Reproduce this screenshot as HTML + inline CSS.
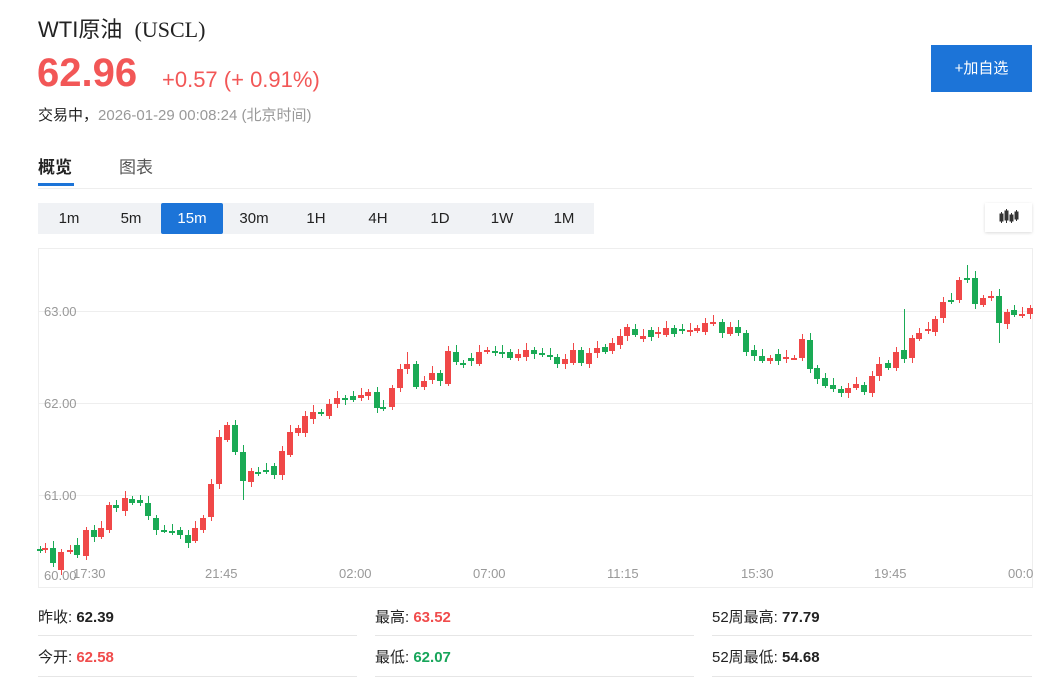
<!DOCTYPE html>
<html><head><meta charset="utf-8"><style>
body{margin:0;width:1063px;height:691px;background:#fff;font-family:"Liberation Sans","Noto Sans CJK SC",sans-serif;position:relative;overflow:hidden}
.a{position:absolute;white-space:nowrap}
.tf{position:absolute;top:203px;height:31px;width:62px;line-height:31px;text-align:center;font-size:15px;color:#222}
.lbl{font-size:15px;color:#222}
.v{font-weight:bold;font-size:15px}
.r{color:#f04c4c}.g{color:#17a55a}
</style></head><body>
<div class="a" style="left:38px;top:12px;font-size:22px;color:#222">WTI原油&nbsp; <span style="font-family:'Liberation Serif',serif">(USCL)</span></div>
<div class="a" style="left:37px;top:51px;font-size:40px;font-weight:bold;color:#f25757">62.96</div>
<div class="a" style="left:162px;top:67px;font-size:22px;color:#f25757">+0.57 (+ 0.91%)</div>
<div class="a" style="left:38px;top:104px;font-size:15px;color:#222">交易中，<span style="color:#999">2026-01-29 00:08:24 (北京时间)</span></div>
<div class="a" style="left:931px;top:45px;width:101px;height:47px;background:#1c74d8;color:#fff;font-size:15px;line-height:47px;text-align:center">+加自选</div>
<div class="a" style="left:38px;top:153px;font-size:17px;font-weight:bold;color:#222">概览</div>
<div class="a" style="left:119px;top:153px;font-size:17px;color:#555">图表</div>
<div class="a" style="left:38px;top:183px;width:36px;height:3px;background:#1c74d8"></div>
<div class="a" style="left:38px;top:188px;width:994px;height:1px;background:#eee"></div>
<div class="a" style="left:38px;top:203px;width:556px;height:31px;background:#f0f2f5"></div>
<div class="tf" style="left:38px">1m</div><div class="tf" style="left:100px">5m</div>
<div class="tf" style="left:161px;background:#1c74d8;color:#fff;border-radius:2px">15m</div>
<div class="tf" style="left:223px">30m</div><div class="tf" style="left:285px">1H</div><div class="tf" style="left:347px">4H</div><div class="tf" style="left:409px">1D</div><div class="tf" style="left:471px">1W</div><div class="tf" style="left:533px">1M</div>
<div class="a" style="left:985px;top:203px;width:47px;height:29px;box-shadow:0 1px 3px rgba(0,0,0,.15);background:#fff">
<svg width="47" height="29"><g fill="#333" stroke="#333"><rect x="15" y="11" width="3" height="7"/><rect x="20" y="8" width="3" height="9"/><rect x="25" y="12" width="3" height="6"/><rect x="30" y="9" width="3" height="7"/><line x1="16.5" y1="9" x2="16.5" y2="20"/><line x1="21.5" y1="6" x2="21.5" y2="20"/><line x1="26.5" y1="10" x2="26.5" y2="20"/><line x1="31.5" y1="7" x2="31.5" y2="18"/></g></svg></div>
<svg class="a" style="left:0;top:0" width="1063" height="600" id="ch">
<rect x="38.5" y="248.5" width="994" height="339" fill="none" stroke="#eee"/>
<g stroke="#eee"><line x1="39" y1="311.5" x2="1032" y2="311.5"/><line x1="39" y1="403.5" x2="1032" y2="403.5"/><line x1="39" y1="495.5" x2="1032" y2="495.5"/></g>
<g font-size="13" fill="#999" font-family="Liberation Sans,sans-serif"><text x="44" y="316">63.00</text><text x="44" y="408">62.00</text><text x="44" y="500">61.00</text><text x="44" y="580">60.00</text>
<text x="73" y="578">17:30</text><text x="205" y="578">21:45</text><text x="339" y="578">02:00</text><text x="473" y="578">07:00</text><text x="607" y="578">11:15</text><text x="741" y="578">15:30</text><text x="874" y="578">19:45</text><text x="1008" y="578">00:0</text></g>
<g id="cd"></g></svg>
<div class="a lbl" style="left:38px;top:606px">昨收: <span class="v">62.39</span></div>
<div class="a lbl" style="left:375px;top:606px">最高: <span class="v r">63.52</span></div>
<div class="a lbl" style="left:712px;top:606px">52周最高: <span class="v">77.79</span></div>
<div class="a lbl" style="left:38px;top:646px">今开: <span class="v r">62.58</span></div>
<div class="a lbl" style="left:375px;top:646px">最低: <span class="v g">62.07</span></div>
<div class="a lbl" style="left:712px;top:646px">52周最低: <span class="v">54.68</span></div>
<div class="a" style="left:38px;top:635px;width:319px;height:1px;background:#e6e6e6"></div>
<div class="a" style="left:375px;top:635px;width:319px;height:1px;background:#e6e6e6"></div>
<div class="a" style="left:712px;top:635px;width:320px;height:1px;background:#e6e6e6"></div>
<div class="a" style="left:38px;top:676px;width:319px;height:1px;background:#e6e6e6"></div>
<div class="a" style="left:375px;top:676px;width:319px;height:1px;background:#e6e6e6"></div>
<div class="a" style="left:712px;top:676px;width:320px;height:1px;background:#e6e6e6"></div>
<script>
var d=[[40,549,551],[45,550,548],[53,548,563],[61,570,552],[70,552,550],[77,545,555],[86,556,530],[94,530,537],[101,537,528],[109,530,505],[116,505,508],[125,511,498],[132,499,503],[140,500,503],[148,503,516],[156,518,530],[164,530,531],[172,531,532],[180,530,535],[188,535,543],[195,541,528],[203,530,518],[211,517,484],[219,484,437],[227,440,425],[235,425,452],[243,452,481],[251,482,471],[258,472,474],[266,470,471],[274,466,475],[282,475,451],[290,455,432],[298,433,428],[305,433,416],[313,419,412],[321,412,414],[329,416,404],[337,404,398],[345,398,400],[353,396,400],[361,398,395],[368,396,392],[377,392,408],[383,407,409],[392,407,388],[400,388,369],[407,369,364],[416,364,387],[424,387,381],[432,380,373],[440,373,381],[448,384,351],[456,352,362],[463,363,364],[471,358,361],[479,364,352],[487,351,350],[495,351,352],[502,352,353],[510,352,358],[518,358,354],[526,357,350],[534,350,354],[542,353,355],[550,355,357],[557,357,364],[565,364,359],[573,363,350],[581,350,363],[589,364,353],[597,353,348],[605,347,352],[612,351,343],[620,345,336],[627,336,327],[635,329,335],[643,339,336],[651,330,337],[658,333,332],[666,335,328],[674,328,334],[682,329,330],[690,331,330],[697,331,328],[705,332,323],[713,322,322],[722,322,333],[730,334,327],[738,327,333],[746,333,352],[754,350,356],[762,356,361],[770,361,358],[778,354,361],[786,358,357],[794,358,358],[802,358,339],[810,340,369],[817,368,379],[825,378,386],[833,385,389],[841,389,393],[848,393,388],[856,388,384],[864,385,392],[872,393,376],[879,376,364],[888,363,368],[896,368,352],[904,350,359],[912,358,338],[919,339,333],[928,331,329],[935,332,319],[943,318,302],[951,300,302],[959,300,280],[967,278,279],[975,278,304],[983,305,298],[991,298,296],[999,296,323],[1007,324,312],[1014,310,315],[1022,315,314],[1030,314,308]];
var s='';d.forEach(function(c,i){var x=c[0],o=c[1],cl=c[2],up=cl<=o,col=up?'#f04848':'#1aaa55',t=Math.min(o,cl),b=Math.max(o,cl),h=Math.max(b-t,2);var hi=t-3-(i%3)*2,lo=b+2+(i%4);if(x==904)hi=309;if(x==967)hi=265;if(x==999)lo=343;if(x==407)hi=352;if(x==243)lo=500;if(x==1030)lo=319;
s+='<line x1="'+x+'.5" x2="'+x+'.5" y1="'+hi+'" y2="'+lo+'" stroke="'+col+'"/><rect x="'+(x-3)+'" y="'+t+'" width="6" height="'+h+'" fill="'+col+'"/>';});
document.getElementById('cd').innerHTML=s;
</script>
</body></html>
